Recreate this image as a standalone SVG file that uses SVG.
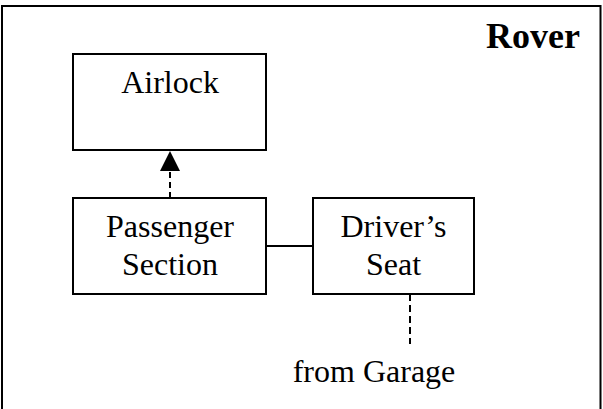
<svg xmlns="http://www.w3.org/2000/svg" width="603" height="409" viewBox="0 0 603 409">
<style>
.box{fill:#fff;stroke:#000;stroke-width:2}
.t{font-family:"Liberation Serif","Times New Roman",serif;font-size:32px;fill:#000;text-anchor:middle}
.ln{stroke:#000;stroke-width:2;fill:none}
.dash{stroke-dasharray:6,4}
</style>
<defs>
<marker id="arr" markerWidth="10" markerHeight="10" refX="10" refY="5" orient="auto" markerUnits="userSpaceOnUse" viewBox="0 0 10 10">
<path d="M0,0 L10,5 L0,10 Z" fill="#000"/>
</marker>
</defs>
<rect width="603" height="409" fill="#fff"/>
<g id="rover">
<path class="ln" d="M2,409 V6 H600.5 V409"/>
<text x="580" y="48" style="font-family:'Liberation Serif','Times New Roman',serif;font-size:36px;font-weight:bold;text-anchor:end">Rover</text>
</g>
<g id="connectors">
<line class="ln dash" x1="170" y1="198" x2="170" y2="171"/>
<path d="M160,171 L170,151 L180,171 Z" fill="#000"/>
<line class="ln" x1="266" y1="246" x2="313" y2="246"/>
<line class="ln" x1="410" y1="294" x2="410" y2="344" style="stroke-dasharray:7,4"/>
</g>
<g id="airlock">
<rect class="box" x="73" y="54" width="193" height="96"/>
<text class="t" x="170" y="93">Airlock</text>
</g>
<g id="passenger">
<rect class="box" x="73" y="198" width="193" height="96"/>
<text class="t" x="170" y="236.5">Passenger</text>
<text class="t" x="170" y="275">Section</text>
</g>
<g id="driver">
<rect class="box" x="313" y="198" width="161" height="96"/>
<text class="t" x="393.5" y="236.5">Driver’s</text>
<text class="t" x="393.5" y="275">Seat</text>
</g>
<g id="garage">
<text class="t" x="374" y="382">from Garage</text>
</g>
</svg>
